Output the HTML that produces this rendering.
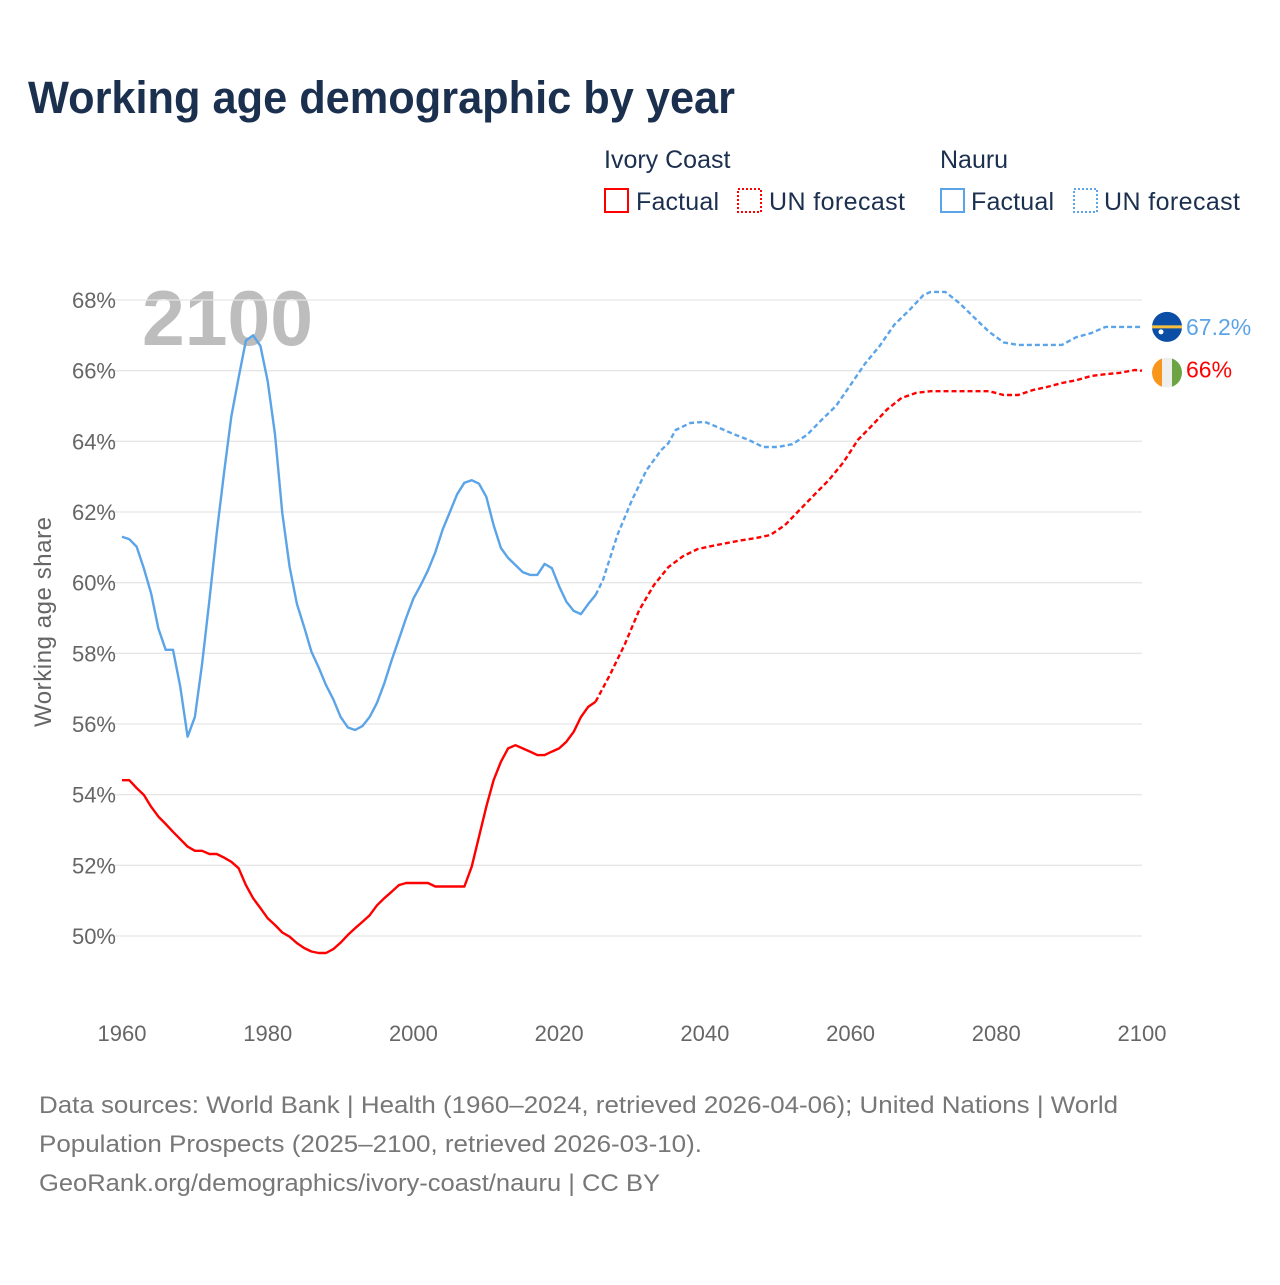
<!DOCTYPE html>
<html><head><meta charset="utf-8">
<style>
body{margin:0;background:#fff;}
svg text{font-family:"Liberation Sans",sans-serif;}
</style></head>
<body>
<svg width="1280" height="1280" viewBox="0 0 1280 1280" xmlns="http://www.w3.org/2000/svg" id="chart">
<rect width="1280" height="1280" fill="#fff"/>
<text x="28" y="113" font-size="45" font-weight="bold" fill="#1b2f4e" textLength="707" lengthAdjust="spacingAndGlyphs">Working age demographic by year</text>
<g font-size="25" fill="#1b2f4e">
<text x="604" y="168">Ivory Coast</text>
<text x="940" y="168">Nauru</text>
<g><rect x="605" y="189" width="23" height="23" fill="none" stroke="#f00" stroke-width="2"/><text x="636" y="210" textLength="83">Factual</text></g>
<g><rect x="738" y="189" width="23" height="23" fill="none" stroke="#f00" stroke-width="2" stroke-dasharray="2,2"/><text x="769" y="210" textLength="136">UN forecast</text></g>
<g><rect x="941" y="189" width="23" height="23" fill="none" stroke="#5ba4e8" stroke-width="2"/><text x="971" y="210" textLength="83">Factual</text></g>
<g><rect x="1074" y="189" width="23" height="23" fill="none" stroke="#5ba4e8" stroke-width="2" stroke-dasharray="2,2"/><text x="1104" y="210" textLength="136">UN forecast</text></g>
</g>
<text x="142" y="345" font-size="78" font-weight="bold" fill="#bdbdbd" textLength="171" lengthAdjust="spacingAndGlyphs">2100</text>
<g id="grid"></g><g id="ylabels"></g><g id="xlabels"></g><g id="series"></g>
<text transform="translate(51,622) rotate(-90)" text-anchor="middle" font-size="24" fill="#666" textLength="210">Working age share</text>
<g font-size="24" fill="#777">
<text x="39" y="1113" textLength="1079" lengthAdjust="spacingAndGlyphs">Data sources: World Bank | Health (1960–2024, retrieved 2026-04-06); United Nations | World</text>
<text x="39" y="1152" textLength="663" lengthAdjust="spacingAndGlyphs">Population Prospects (2025–2100, retrieved 2026-03-10).</text>
<text x="39" y="1191" textLength="621" lengthAdjust="spacingAndGlyphs">GeoRank.org/demographics/ivory-coast/nauru | CC BY</text>
</g>
</svg>
<script>
const yTicks=[50,52,54,56,58,60,62,64,66,68];
const xTicks=[1960,1980,2000,2020,2040,2060,2080,2100];
const ivoryYears=[1960,1961,1962,1963,1964,1965,1966,1967,1968,1969,1970,1971,1972,1973,1974,1975,1976,1977,1978,1979,1980,1981,1982,1983,1984,1985,1986,1987,1988,1989,1990,1991,1992,1993,1994,1995,1996,1997,1998,1999,2000,2001,2002,2003,2004,2005,2006,2007,2008,2009,2010,2011,2012,2013,2014,2015,2016,2017,2018,2019,2020,2021,2022,2023,2024,2025];
const ivoryFactual=[54.41,54.41,54.19,53.99,53.66,53.38,53.17,52.95,52.74,52.53,52.41,52.41,52.32,52.32,52.22,52.1,51.92,51.44,51.07,50.79,50.5,50.31,50.1,49.98,49.8,49.66,49.56,49.52,49.52,49.63,49.81,50.03,50.22,50.4,50.59,50.87,51.07,51.25,51.44,51.5,51.5,51.5,51.5,51.4,51.4,51.4,51.4,51.4,51.96,52.81,53.66,54.41,54.93,55.31,55.4,55.31,55.22,55.12,55.12,55.22,55.31,55.5,55.78,56.2,56.49,56.63];
const nauruFactual=[61.3,61.23,61.02,60.4,59.7,58.7,58.1,58.1,57.05,55.64,56.2,57.7,59.5,61.4,63.1,64.7,65.8,66.85,67.0,66.7,65.7,64.2,61.97,60.45,59.4,58.75,58.05,57.6,57.1,56.7,56.2,55.9,55.83,55.94,56.2,56.6,57.15,57.8,58.4,59.0,59.55,59.93,60.35,60.86,61.5,62.0,62.5,62.83,62.9,62.8,62.43,61.63,60.98,60.7,60.5,60.3,60.22,60.22,60.53,60.41,59.9,59.46,59.2,59.11,59.4,59.65];
const nauruFcYears=[2025,2026,2028,2030,2032,2034,2035,2036,2038,2040,2042,2044,2046,2048,2050,2052,2054,2056,2058,2060,2062,2064,2066,2068,2070,2071,2073,2075,2077,2079,2081,2083,2089,2091,2093,2095,2100];
const nauruForecast=[59.65,60.07,61.35,62.34,63.19,63.75,63.95,64.32,64.52,64.55,64.38,64.2,64.04,63.84,63.84,63.92,64.18,64.6,65.0,65.6,66.2,66.7,67.3,67.7,68.14,68.23,68.23,67.9,67.5,67.1,66.8,66.73,66.73,66.95,67.06,67.24,67.24];
const ivoryFcYears=[2025,2027,2029,2031,2033,2035,2037,2039,2041,2043,2045,2047,2049,2051,2053,2055,2057,2059,2061,2063,2065,2067,2069,2071,2079,2081,2083,2085,2087,2089,2091,2093,2095,2097,2099,2100];
const ivoryForecast=[56.63,57.4,58.25,59.23,59.93,60.44,60.75,60.95,61.04,61.12,61.2,61.26,61.35,61.63,62.06,62.48,62.9,63.4,64.04,64.46,64.9,65.23,65.37,65.42,65.42,65.31,65.31,65.45,65.54,65.65,65.73,65.85,65.9,65.94,66.02,66.0];

const NS='http://www.w3.org/2000/svg';
const X=y=>122+(y-1960)*(1020/140);
const Y=v=>936-(v-50)*(636/18);
function mk(tag,attrs,parent){const e=document.createElementNS(NS,tag);for(const k in attrs)e.setAttribute(k,attrs[k]);parent.appendChild(e);return e;}
const grid=document.getElementById('grid'),yl=document.getElementById('ylabels'),xl=document.getElementById('xlabels'),ser=document.getElementById('series');
yTicks.forEach(t=>{
  const l=mk('line',{x1:110,x2:1142,y1:Y(t),y2:Y(t),stroke:'#e6e6e6','stroke-width':1.3},grid);
  
  
  const tx=mk('text',{x:116,y:Y(t)+8,'text-anchor':'end','font-size':22,fill:'#666'},yl);
  tx.textContent=t+'%';
  
  
});
xTicks.forEach(t=>{
  const tx=mk('text',{x:X(t),y:1041,'text-anchor':'middle','font-size':22,fill:'#666'},xl);
  tx.textContent=t;
  
  
});
function line(xs,vs,color,dash,name){
  const d=xs.map((x,i)=>(i?'L':'M')+X(x).toFixed(1)+','+Y(vs[i]).toFixed(1)).join('');
  const p=mk('path',{d:d,fill:'none',stroke:color,'stroke-width':2.4,'stroke-linejoin':'round'},ser);
  if(dash)p.setAttribute('stroke-dasharray',dash);
  
  
}
line(ivoryFcYears,ivoryForecast,'#ff0000','5,3','ivory-coast-forecast-line');
line(nauruFcYears,nauruForecast,'#5ba4e8','5,3','nauru-forecast-line');
line(ivoryYears,ivoryFactual,'#ff0000',null,'ivory-coast-factual-line');
line(ivoryYears,nauruFactual,'#5ba4e8',null,'nauru-factual-line');

const nv=nauruForecast[nauruForecast.length-1], iv=ivoryForecast[ivoryForecast.length-1];
const ny=Y(nv), iy=Y(iv)+2;
const g1=mk('g',{},ser);


mk('circle',{cx:1167,cy:ny,r:15,fill:'#0a4ea6'},g1);
mk('rect',{x:1152,y:ny-1.5,width:30,height:3,fill:'#f5c13c'},g1);
mk('circle',{cx:1161,cy:ny+5,r:2.5,fill:'#fff'},g1);
const t1=mk('text',{x:1186,y:ny+8,'font-size':23,fill:'#5ba4e8'},ser);
t1.textContent=nv.toFixed(1)+'%';


const g2=mk('g',{},ser);


const cp=mk('clipPath',{id:'cc'},g2);mk('circle',{cx:1167,cy:iy,r:15},cp);
mk('rect',{x:1152,y:iy-15,width:10,height:30,fill:'#f7951d','clip-path':'url(#cc)'},g2);
mk('rect',{x:1162,y:iy-15,width:10,height:30,fill:'#eeeeee','clip-path':'url(#cc)'},g2);
mk('rect',{x:1172,y:iy-15,width:10,height:30,fill:'#6ca444','clip-path':'url(#cc)'},g2);
const t2=mk('text',{x:1186,y:iy+5,'font-size':23,fill:'#ff0000'},ser);
t2.textContent=Math.round(iv)+'%';


</script>
</body></html>
